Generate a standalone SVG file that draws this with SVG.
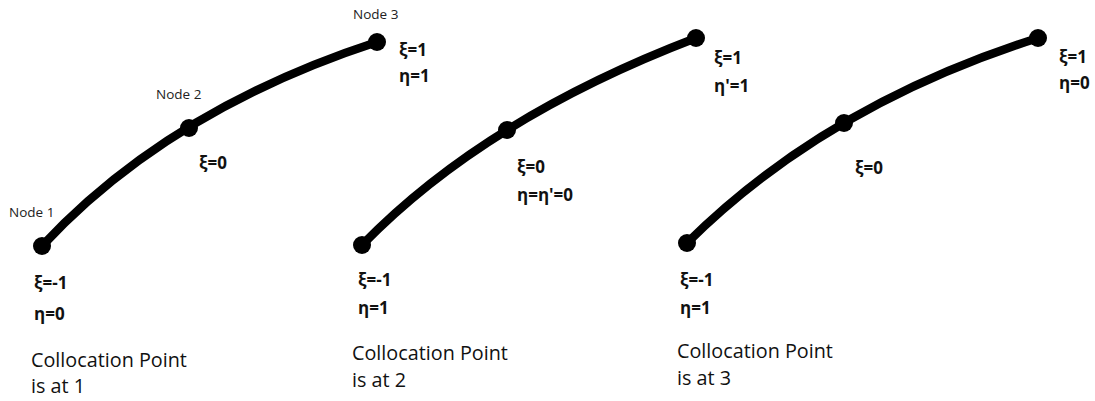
<svg xmlns="http://www.w3.org/2000/svg" width="1095" height="401" viewBox="0 0 1095 401">
<style>
.curve{fill:none;stroke:#000;stroke-width:8.5;stroke-linecap:round}
.dot{fill:#000}
.v{font-family:"Open Sans","Liberation Sans",sans-serif;font-weight:bold;font-size:17px;fill:#111}
.n{font-family:"Open Sans","Liberation Sans",sans-serif;font-size:13.5px;fill:#222}
.c{font-family:"Open Sans","Liberation Sans",sans-serif;font-size:19.8px;fill:#111}
</style>
<rect width="1095" height="401" fill="#fff"/>
<g id="connectors">
<path class="curve" d="M42,246 Q168.5,110 377,42"/>
<path class="curve" d="M362,245 Q485,118.5 696,38"/>
<path class="curve" d="M687,243 Q825.5,105.5 1038,38"/>
</g>
<g id="diagram1">
<circle class="dot" cx="42" cy="246" r="9"/>
<circle class="dot" cx="189" cy="128" r="9"/>
<circle class="dot" cx="377" cy="42" r="9"/>
<text class="n" x="353" y="19">Node 3</text>
<text class="n" x="156" y="99">Node 2</text>
<text class="n" x="9" y="217">Node 1</text>
<text class="v" x="399" y="56">ξ=1</text>
<text class="v" x="399" y="82">η=1</text>
<text class="v" x="199" y="169">ξ=0</text>
<text class="v" x="34" y="289">ξ=-1</text>
<text class="v" x="34" y="320">η=0</text>
<text class="c" x="31" y="367">Collocation Point</text>
<text class="c" x="31" y="393">is at 1</text>
</g>
<g id="diagram2">
<circle class="dot" cx="362" cy="245" r="9"/>
<circle class="dot" cx="507" cy="130" r="9"/>
<circle class="dot" cx="696" cy="38" r="9"/>
<text class="v" x="714" y="64">ξ=1</text>
<text class="v" x="714" y="92">η'=1</text>
<text class="v" x="517" y="173">ξ=0</text>
<text class="v" x="517" y="201">η=η'=0</text>
<text class="v" x="358" y="286">ξ=-1</text>
<text class="v" x="358" y="314">η=1</text>
<text class="c" x="352" y="360">Collocation Point</text>
<text class="c" x="352" y="387">is at 2</text>
</g>
<g id="diagram3">
<circle class="dot" cx="687" cy="243" r="9"/>
<circle class="dot" cx="844" cy="123" r="9"/>
<circle class="dot" cx="1038" cy="38" r="9"/>
<text class="v" x="1059" y="63">ξ=1</text>
<text class="v" x="1059" y="89">η=0</text>
<text class="v" x="855" y="174">ξ=0</text>
<text class="v" x="680" y="286">ξ=-1</text>
<text class="v" x="680" y="314">η=1</text>
<text class="c" x="677" y="358">Collocation Point</text>
<text class="c" x="677" y="385">is at 3</text>
</g>
</svg>
